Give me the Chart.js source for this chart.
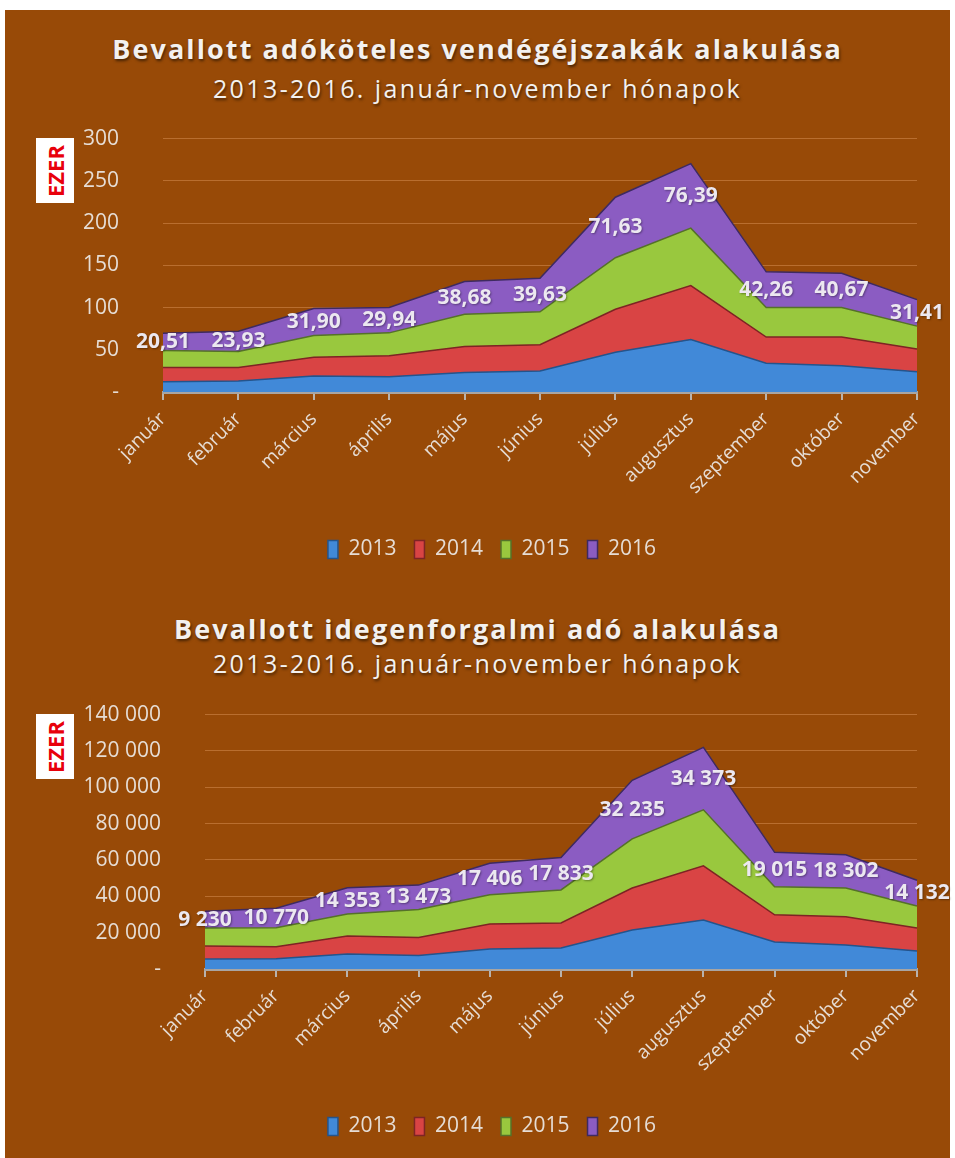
<!DOCTYPE html>
<html>
<head>
<meta charset="utf-8">
<script src="https://cdn.jsdelivr.net/npm/chart.js@4/dist/chart.umd.min.js"></script>
<style>
  body { margin: 0; background: #fff; width: 955px; height: 1158px; position: relative; overflow: hidden; font-family: 'Open Sans', sans-serif; }
  .panel { position: absolute; left: 5px; top: 10px; width: 945px; height: 1148px; background: #984A07; }
  .title { position: absolute; left: 0; width: 955px; text-align: center; color: #F3F1EF; text-shadow: 1px 2px 3px rgba(0,0,0,0.55); white-space: nowrap; }
  .main { font-weight: 700; font-size: 27px; letter-spacing: 2.1px; }
  .sub { font-size: 25px; letter-spacing: 2.4px; }
  .ezer { position: absolute; left: 36px; width: 38px; height: 65px; background: #fff; }
  .ezer span { position: absolute; left: 50%; top: 50%; transform: translate(-50%, -50%) rotate(-90deg); color: #E8000B; font-weight: 700; font-size: 22px; font-family: 'Open Sans', sans-serif; }
  canvas { position: absolute; left: 0; }
</style>
</head>
<body>
<div class="panel"></div>
<div class="title main" style="top:30px">Bevallott adóköteles vendégéjszakák alakulása</div>
<div class="title sub" style="top:71px">2013-2016. január-november hónapok</div>
<div class="title main" style="top:610px">Bevallott idegenforgalmi adó alakulása</div>
<div class="title sub" style="top:646px">2013-2016. január-november hónapok</div>
<div class="ezer" style="top:138px"><span>EZER</span></div>
<div class="ezer" style="top:714px"><span>EZER</span></div>
<canvas id="nights" width="955" height="496" style="top:82px"></canvas>
<canvas id="tax" width="955" height="497" style="top:658px"></canvas>
<script>
const months = ['január', 'február', 'március', 'április', 'május', 'június', 'július', 'augusztus', 'szeptember', 'október', 'november'];
const years = ['2013', '2014', '2015', '2016'];

// vendégéjszakák, ezer
const nights2013 = [12, 13, 19, 18, 23, 25, 47, 62, 34, 31, 24];
const nights2014 = [17, 16, 22, 25, 31, 31, 51, 64, 31, 34, 27];
const nights2015 = [20, 19, 26, 27, 38, 39, 61, 68, 35, 35, 27];
const nights2016 = [20.51, 23.93, 31.90, 29.94, 38.68, 39.63, 71.63, 76.39, 42.26, 40.67, 31.41];

// idegenforgalmi adó, ezer Ft
const tax2013 = [5500, 5600, 8300, 7400, 11000, 11600, 21500, 27000, 14900, 13200, 9900];
const tax2014 = [7200, 6600, 9900, 9900, 13800, 13700, 23100, 29800, 14900, 15500, 12700];
const tax2015 = [9900, 10500, 12100, 15400, 16000, 18200, 27000, 30800, 15400, 15900, 12100];
const tax2016 = [9230, 10770, 14353, 13473, 17406, 17833, 32235, 34373, 19015, 18302, 14132];

const nightTicks = [0, 50, 100, 150, 200, 250, 300];
const taxTicks = [0, 20000, 40000, 60000, 80000, 100000, 120000, 140000];

const colors = ['#4189D8', '#D94444', '#99C83E', '#8B5CC2'];
const edges = ['#24548C', '#7E2424', '#55712A', '#3E2A60'];
const textColor = '#E6DDD5';

const fmtDecimal = (v) => v.toFixed(2).replace('.', ',');
const fmtThousands = (v) => String(Math.round(v)).replace(/\B(?=(\d{3})+(?!\d))/g, ' ');

function bandLabels(format) {
  return {
    id: 'bandLabels',
    afterDatasetsDraw(chart) {
      const { ctx, scales: { y } } = chart;
      const sets = chart.data.datasets;
      const last = sets.length - 1;
      const meta = chart.getDatasetMeta(last);
      ctx.save();
      ctx.font = 'bold 21px "Open Sans", sans-serif';
      ctx.textAlign = 'center';
      ctx.textBaseline = 'middle';
      ctx.fillStyle = '#ECE8F0';
      ctx.shadowColor = 'rgba(0,0,0,0.35)';
      ctx.shadowOffsetX = 1;
      ctx.shadowOffsetY = 1;
      ctx.shadowBlur = 2;
      meta.data.forEach((pt, i) => {
        let base = 0;
        for (let d = 0; d < last; d++) base += sets[d].data[i];
        const v = sets[last].data[i];
        ctx.fillText(format(v), pt.x, y.getPixelForValue(base + v / 2));
      });
      ctx.restore();
    }
  };
}

// left padding keeps the legend centred like the original, axis width keeps the plot in place
function makeChart(id, series, ticks, tickFormat, labelFormat, plotLeft, axisHeight) {
  const max = ticks[ticks.length - 1];
  const padLeft = 67;
  return new Chart(document.getElementById(id), {
    type: 'line',
    data: {
      labels: months,
      datasets: series.map((data, i) => ({
        label: years[i],
        data: data,
        backgroundColor: colors[i],
        borderColor: edges[i],
        borderWidth: 1.5,
        fill: i === 0 ? 'origin' : '-1',
        pointRadius: 0,
        tension: 0
      }))
    },
    options: {
      responsive: false,
      animation: false,
      layout: { padding: { top: 26, right: 38, bottom: 8, left: padLeft } },
      scales: {
        x: {
          offset: false,
          grid: { drawOnChartArea: false, drawTicks: true, tickLength: 8, color: '#B9B2AC', lineWidth: 2 },
          border: { color: '#A9A5A2', width: 3 },
          ticks: {
            color: textColor,
            font: { family: 'Open Sans', size: 19 },
            minRotation: 45,
            maxRotation: 45,
            padding: 8
          },
          afterFit: (scale) => { scale.height = axisHeight; }
        },
        y: {
          stacked: true,
          min: 0,
          max: max,
          afterBuildTicks: (scale) => { scale.ticks = ticks.map((v) => ({ value: v })); },
          grid: { color: 'rgba(214, 140, 80, 0.55)', lineWidth: 1, drawTicks: false },
          border: { display: false },
          ticks: {
            color: textColor,
            font: { family: 'Open Sans', size: 21 },
            padding: 44,
            callback: (v) => (v === 0 ? '-' : tickFormat(v))
          },
          afterFit: (scale) => { scale.width = plotLeft - padLeft; }
        }
      },
      plugins: {
        legend: {
          position: 'bottom',
          labels: {
            color: textColor,
            font: { family: 'Open Sans', size: 21 },
            boxWidth: 10,
            boxHeight: 18,
            padding: 18
          }
        },
        tooltip: { enabled: false }
      }
    },
    plugins: [bandLabels(labelFormat)]
  });
}

makeChart('nights', [nights2013, nights2014, nights2015, nights2016], nightTicks, (v) => String(v), fmtDecimal, 163, 129);
makeChart('tax', [tax2013, tax2014, tax2015, tax2016], taxTicks, fmtThousands, fmtThousands, 205, 129);
</script>
</body>
</html>
